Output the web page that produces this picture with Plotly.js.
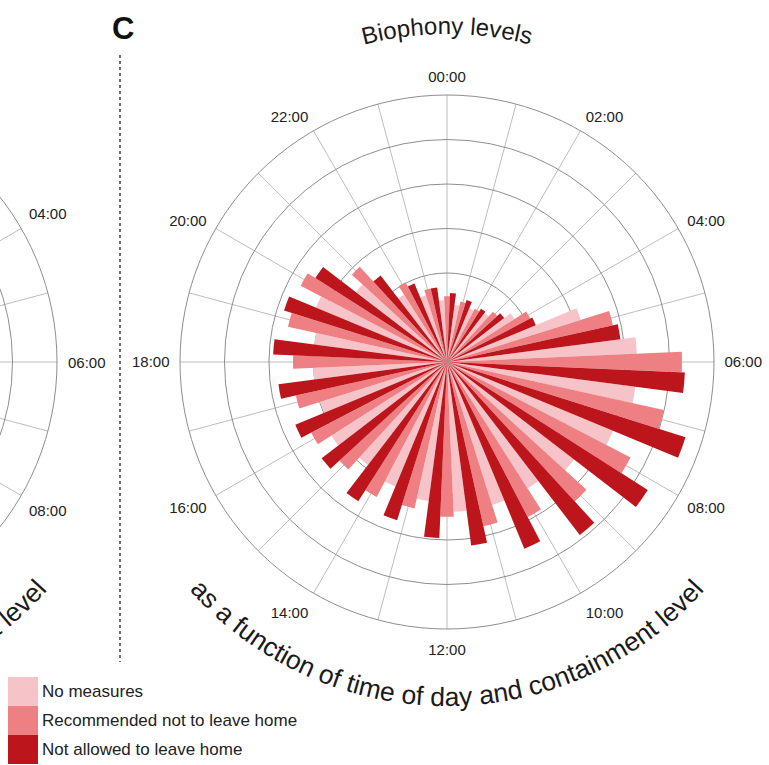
<!DOCTYPE html>
<html>
<head>
<meta charset="utf-8">
<script src="https://cdn.plot.ly/plotly-3.0.1.min.js"></script>
<style>
html,body{margin:0;padding:0;background:#fff;}
#chart{width:769px;height:765px;}
</style>
</head>
<body>
<div id="chart"></div>
<script>
// ---------------- data ----------------
const hours = [0,1,2,3,4,5,6,7,8,9,10,11,12,13,14,15,16,17,18,19,20,21,22,23];
const hourLabels = ['00:00','01:00','02:00','03:00','04:00','05:00','06:00','07:00','08:00','09:00','10:00','11:00',
                    '12:00','13:00','14:00','15:00','16:00','17:00','18:00','19:00','20:00','21:00','22:00','23:00'];
const seriesNames = ['No measures','Recommended not to leave home','Not allowed to leave home'];
// biophony level (arbitrary units, outer ring = 6)
const noMeasures  = [1.39,1.30,1.30,1.39,1.80,3.15,4.27,4.27,4.04,3.60,3.37,3.37,3.37,3.15,3.03,2.92,3.08,2.99,3.01,3.01,3.19,2.58,1.80,1.57];
const recommended = [1.48,1.39,1.35,1.53,2.11,3.82,5.28,4.99,4.65,4.25,3.93,3.78,3.48,3.37,3.42,3.28,3.44,3.48,3.46,3.66,3.71,2.90,2.02,1.69];
const notAllowed  = [1.55,1.46,1.42,1.62,2.16,3.93,5.35,5.62,5.35,4.90,4.54,4.16,3.96,3.73,3.71,3.55,3.69,3.82,3.91,3.84,3.51,2.45,1.91,1.69];
const ringValues  = [2,3,4,5,6];
const radialMax   = 6;

const titleText   = 'Biophony levels';
const captionText = 'as a function of time of day and containment level';
const panelLabel  = 'C';

// ---------------- styling ----------------
const W = 769, H = 765;
const colors = ['#f6c3c8','#ee8083','#bc161c'];
const tickFont = 'Liberation Sans Narrow, Arial Narrow, Liberation Sans, Arial, sans-serif';
const textFont = 'Liberation Sans, Arial, sans-serif';
const C = {x:447, y:362};      // polar centre (px)
const R = 267;                 // polar radius (px)
const leftC = {x:-210, y:362}; // centre of neighbouring panel (mostly off-page)
const ringCol = '#8e8e8e', spokeCol = '#bdbdbd';

const px = v => v / W;
const py = v => 1 - v / H;

const seriesR = [noMeasures, recommended, notAllowed];
const offsets = [-5, 0, 5];
const traces = seriesR.map((r, i) => ({
  type: 'barpolar',
  r: r,
  theta: hours.map(h => h * 15 + offsets[i]),
  width: 5,
  name: seriesNames[i],
  marker: {color: colors[i], line: {width: 0}},
  showlegend: false,
  hoverinfo: 'skip'
}));

// ----- shapes: divider, neighbouring panel grid, legend swatches -----
const shapes = [];
shapes.push({type:'line', xref:'paper', yref:'paper', x0:px(120), x1:px(120), y0:py(55), y1:py(662),
             line:{color:'#4a4a4a', width:1.6, dash:'dot'}});
// neighbouring panel (same layout, shifted left)
hours.forEach(h => {
  const a = h * 15 * Math.PI / 180;
  shapes.push({type:'line', xref:'paper', yref:'paper', layer:'below',
    x0:px(leftC.x), y0:py(leftC.y), x1:px(leftC.x + R*Math.sin(a)), y1:py(leftC.y - R*Math.cos(a)),
    line:{color:spokeCol, width:1}});
});
ringValues.forEach(v => {
  const rr = v / radialMax * R;
  shapes.push({type:'circle', xref:'paper', yref:'paper', layer:'below',
    x0:px(leftC.x - rr), x1:px(leftC.x + rr), y0:py(leftC.y + rr), y1:py(leftC.y - rr),
    line:{color:ringCol, width:1}});
});
// legend swatches
const legTop = 677, legH = 29;
seriesNames.forEach((n, i) => {
  shapes.push({type:'rect', xref:'paper', yref:'paper',
    x0:px(8), x1:px(38), y0:py(legTop + (i+1)*legH), y1:py(legTop + i*legH),
    fillcolor:colors[i], line:{width:0}});
});

// ----- annotations -----
const annotations = [];
annotations.push({text:'<b>'+panelLabel+'</b>', xref:'paper', yref:'paper', x:px(123), y:py(29),
  xanchor:'center', yanchor:'middle', showarrow:false, font:{family:textFont, size:31, color:'#111'}});
seriesNames.forEach((n, i) => {
  annotations.push({text:n, xref:'paper', yref:'paper', x:px(40), y:py(legTop + i*legH + legH/2),
    xanchor:'left', yanchor:'middle', showarrow:false, font:{family:tickFont, size:17, color:'#222'}});
});
// tick labels of the neighbouring panel that fall on the page
hours.filter(h => h % 2 === 0).forEach(h => {
  const a = h * 15 * Math.PI / 180;
  const ext = Math.abs(Math.sin(a)) * 20 + Math.abs(Math.cos(a)) * 7;
  const rl = R + 10 + ext;
  const x = leftC.x + rl * Math.sin(a), y = leftC.y - rl * Math.cos(a);
  if (x > 10) {
    annotations.push({text:hourLabels[h], xref:'paper', yref:'paper', x:px(x), y:py(y),
      xanchor:'center', yanchor:'middle',
      showarrow:false, font:{family:tickFont, size:15, color:'#222'}});
  }
});

const layout = {
  width: W, height: H,
  margin: {l:0, r:0, t:0, b:0},
  paper_bgcolor: '#fff',
  showlegend: false,
  polar: {
    domain: {x:[px(C.x - R), px(C.x + R)], y:[py(C.y + R), py(C.y - R)]},
    bgcolor: 'rgba(0,0,0,0)',
    radialaxis: {range:[0, radialMax], tickmode:'array', tickvals:ringValues, showticklabels:false,
      ticks:'', showline:false, gridcolor:ringCol, gridwidth:1, layer:'below traces'},
    angularaxis: {rotation:90, direction:'clockwise', thetaunit:'degrees',
      tickmode:'array', tickvals:hours.map(h => h * 15),
      ticktext:hourLabels.map((t, i) => i % 2 === 0 ? t : ''),
      showgrid:true, gridcolor:spokeCol, gridwidth:1,
      showline:true, linecolor:ringCol, linewidth:1,
      ticks:'outside', ticklen:7, tickcolor:'rgba(0,0,0,0)',
      tickfont:{family:tickFont, size:15, color:'#222'}, layer:'below traces'}
  },
  shapes: shapes,
  annotations: annotations
};

// ----- curved texts (SVG textPath added into Plotly's svg) -----
function addCurved(svg, id, cx, cy, rad, a0, a1, sweep, text, size) {
  const NS = 'http://www.w3.org/2000/svg';
  const p = a => [cx + rad * Math.sin(a*Math.PI/180), cy - rad * Math.cos(a*Math.PI/180)];
  const s = p(a0), e = p(a1);
  const path = document.createElementNS(NS, 'path');
  path.setAttribute('id', id);
  path.setAttribute('d', `M${s[0]},${s[1]} A${rad},${rad} 0 0 ${sweep} ${e[0]},${e[1]}`);
  path.setAttribute('fill', 'none');
  path.setAttribute('stroke', 'none');
  const t = document.createElementNS(NS, 'text');
  t.setAttribute('font-family', textFont);
  t.setAttribute('font-size', size);
  t.setAttribute('fill', '#1a1a1a');
  const tp = document.createElementNS(NS, 'textPath');
  tp.setAttribute('href', '#' + id);
  tp.setAttribute('startOffset', '50%');
  tp.setAttribute('text-anchor', 'middle');
  tp.textContent = text;
  t.appendChild(tp);
  const g = document.createElementNS(NS, 'g');
  g.appendChild(path); g.appendChild(t);
  svg.appendChild(g);
}

Plotly.newPlot('chart', traces, layout, {displayModeBar:false, staticPlot:true}).then(gd => {
  const svgs = gd.querySelectorAll('svg.main-svg');
  const svg = svgs[svgs.length - 1];
  addCurved(svg, 'titlePath', C.x, C.y, 328, -50, 50, 1, titleText, 24);
  addCurved(svg, 'capPath', C.x, C.y, 344, 240, 120, 0, captionText, 26.5);
  addCurved(svg, 'capPathLeft', leftC.x, leftC.y, 344, 240, 120, 0, captionText, 26.5);
});
</script>
</body>
</html>
